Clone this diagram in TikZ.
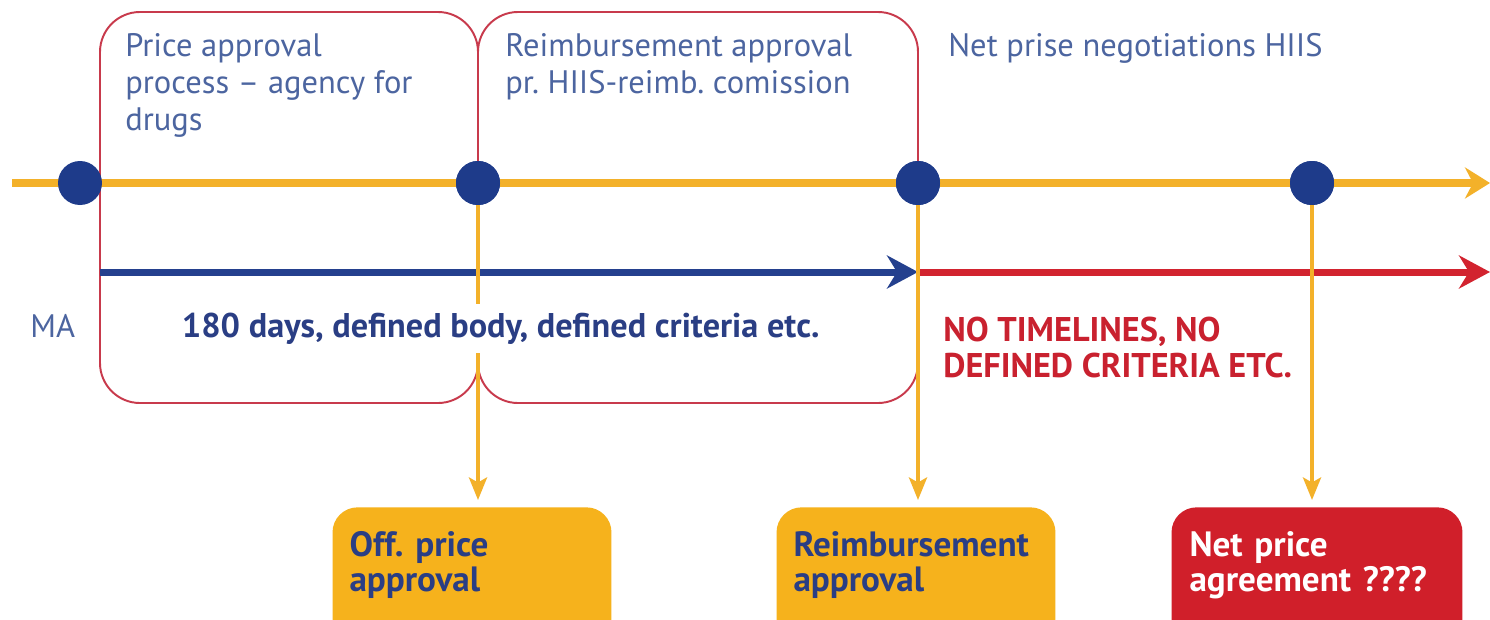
\documentclass[tikz,border=0pt]{standalone}
\usepackage{fontspec}
\setmainfont{PT Sans}
\usetikzlibrary{arrows.meta}
\frenchspacing

\definecolor{lineyellow}{HTML}{F3B12A}
\definecolor{boxyellow}{HTML}{F6B21C}
\definecolor{dotblue}{HTML}{1E3B8A}
\definecolor{arrowblue}{HTML}{24408E}
\definecolor{arrowred}{HTML}{D2232F}
\definecolor{framered}{HTML}{C83A4C}
\definecolor{greyblue}{HTML}{4C65A0}
\definecolor{navytext}{HTML}{2A3E84}
\definecolor{redtext}{HTML}{C9212F}
\definecolor{boxred}{HTML}{D01F2A}

\begin{document}
\begin{tikzpicture}[x=0.02cm,y=-0.02cm,
  every node/.style={font=\fontsize{18.5}{21}\selectfont},
  phase/.style={draw=framered,line width=1.1pt,rounded corners=0.8cm},
  dot/.style={circle,fill=dotblue,minimum size=0.88cm,inner sep=0pt},
  plain/.style={text=greyblue,align=left,anchor=north west,inner sep=0pt},
  heavy/.style={font=\fontsize{19.5}{20.5}\selectfont\bfseries,align=left},
  result/.style={font=\fontsize{20}{20}\selectfont\bfseries,align=left,rounded corners=0.5cm,anchor=north,minimum width=5.58cm,
    text width=4.9cm,text height=0.68cm,text depth=2cm,inner ysep=0.3cm,text=navytext}]
\clip (0,0) rectangle (1490,619);
\fill [white] (0,0) rectangle (1490,619);

% the two process frames
\draw [phase] (100,12) rectangle (478,403);
\draw [phase] (478,12) rectangle (918,403);

% time axis
\coordinate (t0) at (12,183);
\coordinate (t1) at (1490,183);
\draw [lineyellow,line width=0.16cm,-{Stealth[length=0.5cm,width=0.62cm,inset=0.16cm]}] (t0) -- (t1);

\node[dot] (ma) at (80,183) {};
\node[dot] (op) at (478,183) {};
\node[dot] (ra) at (918,183) {};
\node[dot] (np) at (1312,183) {};

% defined / undefined periods
\coordinate (b0) at (100,272);
\coordinate (r1) at (1490,272);
\draw [arrowblue,line width=0.14cm,-{Stealth[length=0.62cm,width=0.66cm,inset=0.2cm]}] (b0) -- (ra |- b0);
\draw [arrowred,line width=0.14cm,-{Stealth[length=0.62cm,width=0.66cm,inset=0.2cm]}] (ra |- b0) -- (r1);

% outcomes
\node[result,fill=boxyellow] (opbox) at (472,507) {Off. price\\approval};
\node[result,fill=boxyellow] (rabox) at (916,507) {Reimbursement\\approval};
\node[result,fill=boxred,text=white,minimum width=5.82cm,text width=5.1cm] (npbox) at (1317,507) {Net price\\agreement ????};

\draw [lineyellow,line width=0.08cm,shorten >=0.14cm,-{Stealth[length=0.45cm,width=0.36cm,inset=0.1cm]}] (op) -- (op |- opbox.north);
\draw [lineyellow,line width=0.08cm,shorten >=0.14cm,-{Stealth[length=0.45cm,width=0.36cm,inset=0.1cm]}] (ra) -- (ra |- rabox.north);
\draw [lineyellow,line width=0.08cm,shorten >=0.14cm,-{Stealth[length=0.45cm,width=0.36cm,inset=0.1cm]}] (np) -- (np |- npbox.north);
\node[dot] at (op) {};
\node[dot] at (ra) {};
\node[dot] at (np) {};

% labels
\node[plain] (patext) at (125,33) {Price approval\\process -- agency for\\drugs};
\node[plain] (ratext) at (505,33) {Reimbursement approval\\pr. HIIS-reimb. comission};
\node[plain] (nptext) at (948,33) {Net prise negotiations HIIS};
\node[text=greyblue,anchor=base west,inner sep=0pt] (matext) at (30,337) {MA};
\node[heavy,text=navytext,anchor=base west,fill=white,inner xsep=2pt,inner ysep=0.18cm] (daystext) at (178,337) {180 days, defined body, defined criteria etc.};
\node[heavy,text=redtext,anchor=north west,inner sep=0pt] (notext) at (943,317) {NO TIMELINES, NO\\DEFINED CRITERIA ETC.};
\end{tikzpicture}
\end{document}
